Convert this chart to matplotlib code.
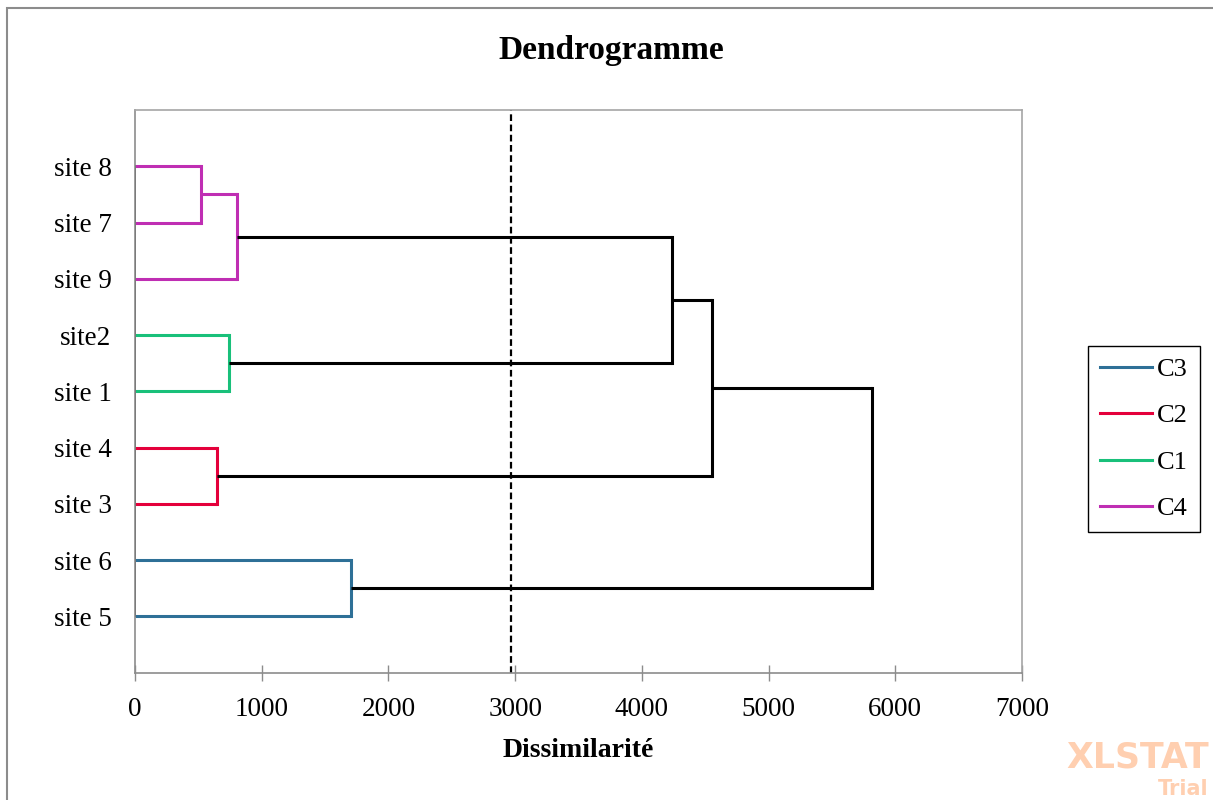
import matplotlib.pyplot as plt
from matplotlib.lines import Line2D
from matplotlib.patches import Rectangle

# leaves from bottom to top
leaves = ['site 5', 'site 6', 'site 3', 'site 4', 'site 1', 'site2', 'site 9', 'site 7', 'site 8']

# agglomeration steps: node ids 0..8 are leaves, new nodes numbered from 9
merge_a = [7, 9, 4, 2, 0, 10, 14, 15]
merge_b = [8, 6, 5, 3, 1, 11, 12, 13]
merge_height = [521, 802, 739, 649, 1702, 4240, 4556, 5815]
merge_group = ['C4', 'C4', 'C1', 'C2', 'C3', None, None, None]

cut_level = 2970

groups = ['C3', 'C2', 'C1', 'C4']
group_colors = {'C3': '#2E7097', 'C2': '#E4003B', 'C1': '#19C07A', 'C4': '#BF2EB3'}

plt.rcParams['font.family'] = ['Liberation Serif', 'DejaVu Serif']

fig = plt.figure(figsize=(12.13, 8), dpi=100)
ax = fig.add_axes([135 / 1213, 1 - 672.7 / 800, (1022 - 135) / 1213, (672.7 - 110) / 800])

# node positions
node_x = [0] * len(leaves)
node_y = list(range(1, len(leaves) + 1))

for a, b, h, g in zip(merge_a, merge_b, merge_height, merge_group):
    c = group_colors[g] if g else 'black'
    ax.plot([node_x[a], h], [node_y[a], node_y[a]], color=c, lw=2.2, solid_capstyle='butt')
    ax.plot([node_x[b], h], [node_y[b], node_y[b]], color=c, lw=2.2, solid_capstyle='butt')
    ax.plot([h, h], [node_y[a], node_y[b]], color=c, lw=2.2, solid_capstyle='projecting')
    node_x.append(h)
    node_y.append((node_y[a] + node_y[b]) / 2)

# black base line joining the leaves
ax.plot([0, 0], [1, len(leaves)], color='black', lw=1.2)

# truncation line
ax.axvline(cut_level, color='black', lw=1.6, ls=(0, (3, 1.6)))

ax.set_xlim(0, 7000)
ax.set_ylim(0, 10)
ax.set_xticks(range(0, 7001, 1000))
ax.set_yticks(range(1, len(leaves) + 1))
ax.set_yticklabels(leaves)

for s in ax.spines.values():
    s.set_color('#A6A6A6')
    s.set_linewidth(1.2)
ax.spines['bottom'].set_color('#8C8C8C')
ax.spines['left'].set_color('#8C8C8C')

ax.tick_params(axis='x', direction='inout', length=11.5, width=1, color='#8C8C8C',
               labelsize=19.5, pad=12)
ax.tick_params(axis='y', length=0, labelsize=19.5, pad=17)

ax.set_xlabel('Dissimilarité', fontsize=20, fontweight='bold', labelpad=11)
fig.text(611 / 1213, 1 - 50 / 800, 'Dendrogramme', fontsize=24, fontweight='bold',
         ha='center', va='center')

handles = [Line2D([], [], color=group_colors[g], lw=2.2) for g in groups]
leg = fig.legend(handles, groups, loc='upper left',
                 bbox_to_anchor=(1088 / 1213, 1 - 345.7 / 800),
                 fontsize=19, frameon=True, fancybox=False, framealpha=1,
                 edgecolor='black', handlelength=1.97, handletextpad=0.2,
                 labelspacing=0.87, borderpad=0.45, borderaxespad=0)
leg.get_frame().set_linewidth(1)

# figure border
fig.patches.append(Rectangle((7 / 1213, -0.05), 1.0, 1 - 8 / 800 + 0.05,
                             transform=fig.transFigure, fill=False,
                             edgecolor='#8C8C8C', lw=1.5))

# watermark
fig.text(1209 / 1213, 1 - 757 / 800, 'XLSTAT', family='DejaVu Sans', fontweight='bold',
         fontsize=25, color='#FFCFB0', ha='right', va='center')
fig.text(1209 / 1213, 1 - 789 / 800, 'Trial', family='DejaVu Sans', fontweight='bold',
         fontsize=15, color='#FFCFB0', ha='right', va='center')

plt.savefig('out.png', dpi=100)
